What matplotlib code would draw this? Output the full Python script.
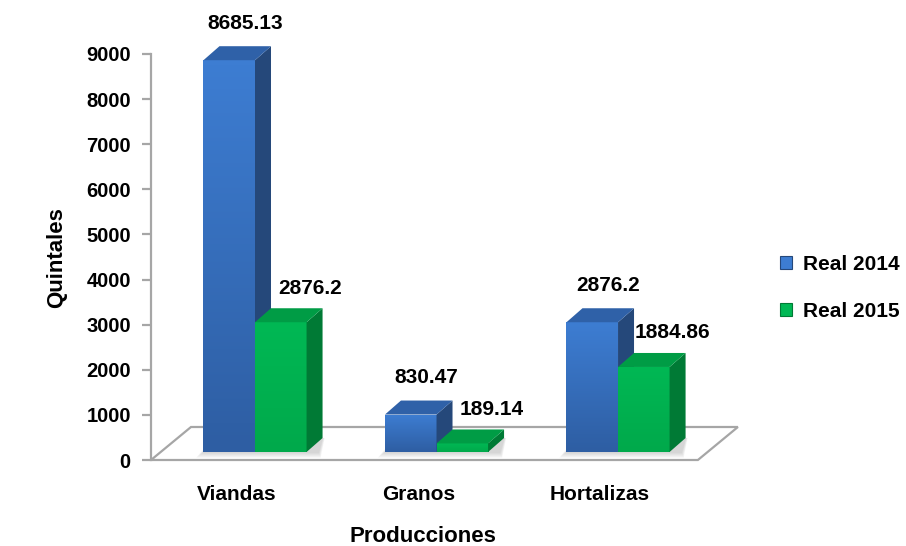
import matplotlib
matplotlib.use("Agg")
import matplotlib.pyplot as plt
from matplotlib.patches import Polygon, Patch
from matplotlib.colors import LinearSegmentedColormap
import numpy as np

plt.rcParams['font.family'] = ['Liberation Sans', 'DejaVu Sans']
plt.rcParams['font.weight'] = 'bold'

# datos
categorias = ["Viandas", "Granos", "Hortalizas"]
real_2014 = [8685.13, 830.47, 2876.2]
real_2015 = [2876.2, 189.14, 1884.86]
series = ["Real 2014", "Real 2015"]

# colores: frente (arriba, abajo), lateral, tapa
colores = {
    "Real 2014": (("#3D7DD2", "#2E5EA3"), "#25487A", "#2F61A8"),
    "Real 2015": (("#00B854", "#00A94B"), "#007A35", "#009C45"),
}
# desplazamiento de las etiquetas (px a la derecha, px sobre la tapa)
desp_etiqueta = {"Real 2014": (7.5, 23), "Real 2015": (21, 20)}

fig = plt.figure(figsize=(9.06, 5.46), dpi=100)
ax = fig.add_axes([151/906, 86/546, (740-151)/906, (460-54)/546])
xmin, xmax = -0.573, 2.672
ax.set_xlim(xmin, xmax)
ax.set_ylim(0, 9000)

px_x = (xmax - xmin) / (740 - 151)
px_y = 9000 / (460 - 54)

# profundidad de las barras y del piso
w = 0.284
dx, dy = 16 * px_x, 14 * px_y
base = 8 * px_y
fdx, fdy = 40 * px_x, 33 * px_y

# piso
piso = Polygon([(xmin, 0), (2.44, 0), (2.44 + fdx, fdy), (xmin + fdx, fdy)],
               closed=True, facecolor="white", edgecolor="#A6A6A6", lw=1.6,
               zorder=1, clip_on=False)
ax.add_patch(piso)

xc = np.arange(len(categorias))

# sombras suaves sobre el piso
for i in range(len(categorias)):
    x0 = xc[i] - w
    x1 = xc[i] + w + dx
    for k in range(6):
        e = (6 - k) * 1.2
        ax.add_patch(Polygon([(x0 - e * px_x, base - e * px_y * 0.8),
                              (x1 - 4 * px_x + e * px_x * 0.3, base - e * px_y * 0.8),
                              (x1 + e * px_x * 0.3, base + dy),
                              (x0 + dx - e * px_x, base + dy)],
                             facecolor="#808080", edgecolor='none', alpha=0.06,
                             zorder=2, clip_on=False))

for i in range(len(categorias)):
    for j, (nombre, valores) in enumerate(zip(series, [real_2014, real_2015])):
        (c_arriba, c_abajo), lado, tapa = colores[nombre]
        x0 = xc[i] - w + j * w
        v = valores[i]
        barra = ax.bar(x0, v, width=w, bottom=base, align='edge', color=c_abajo,
                       zorder=3 + j, clip_on=False)[0]
        cmap = LinearSegmentedColormap.from_list("g", [c_abajo, c_arriba])
        grad = ax.imshow(np.linspace(0, 1, 64).reshape(-1, 1), cmap=cmap, origin='lower',
                         extent=(x0, x0 + w, base, base + v), aspect='auto',
                         zorder=3 + j, interpolation='bilinear')
        grad.set_clip_path(barra)
        top = base + v
        ax.add_patch(Polygon([(x0 + w, base), (x0 + w + dx, base + dy),
                              (x0 + w + dx, top + dy), (x0 + w, top)],
                             facecolor=lado, edgecolor='none', zorder=3 + j, clip_on=False))
        ax.add_patch(Polygon([(x0, top), (x0 + w, top), (x0 + w + dx, top + dy),
                              (x0 + dx, top + dy)],
                             facecolor=tapa, edgecolor='none', zorder=3 + j, clip_on=False))
        ox, oy = desp_etiqueta[nombre]
        ax.text(x0 + w / 2 + dx / 2 + ox * px_x, top + dy + oy * px_y, f"{v:g}",
                ha='center', va='center', fontsize=15, fontweight='bold',
                clip_on=False, zorder=10)

ax.set_xlim(xmin, xmax)
ax.set_ylim(0, 9000)

# etiquetas de categorías
for i, c in enumerate(categorias):
    ax.text(xc[i] - 0.1, -34 * px_y, c, ha='center', va='center', fontsize=15,
            fontweight='bold', clip_on=False)

for s in ['top', 'right', 'bottom']:
    ax.spines[s].set_visible(False)
ax.spines['left'].set_color("#A6A6A6")
ax.spines['left'].set_linewidth(1.6)
ax.set_xticks([])
ax.set_yticks(np.arange(0, 9001, 1000))
ax.tick_params(axis='y', colors="#A6A6A6", length=6.5, width=1.6, pad=8,
               labelcolor='black', labelsize=14.5)
for t in ax.get_yticklabels():
    t.set_fontweight('bold')

fig.text(57/906, 1 - 258/546, "Quintales", rotation=90, ha='center', va='center',
         fontsize=16, fontweight='bold')
fig.text(423/906, 1 - 537/546, "Producciones", ha='center', va='center',
         fontsize=16, fontweight='bold')

handles = [Patch(facecolor=colores[s][0][0], edgecolor=colores[s][1], lw=0.8) for s in series]
fig.legend(handles, series, loc='center left', bbox_to_anchor=(761/906, 1 - 288/546),
           frameon=False, handlelength=0.6, handleheight=0.6,
           handletextpad=0.5, labelspacing=1.35, prop={'weight': 'bold', 'size': 15})

fig.savefig("out.png", dpi=100)
